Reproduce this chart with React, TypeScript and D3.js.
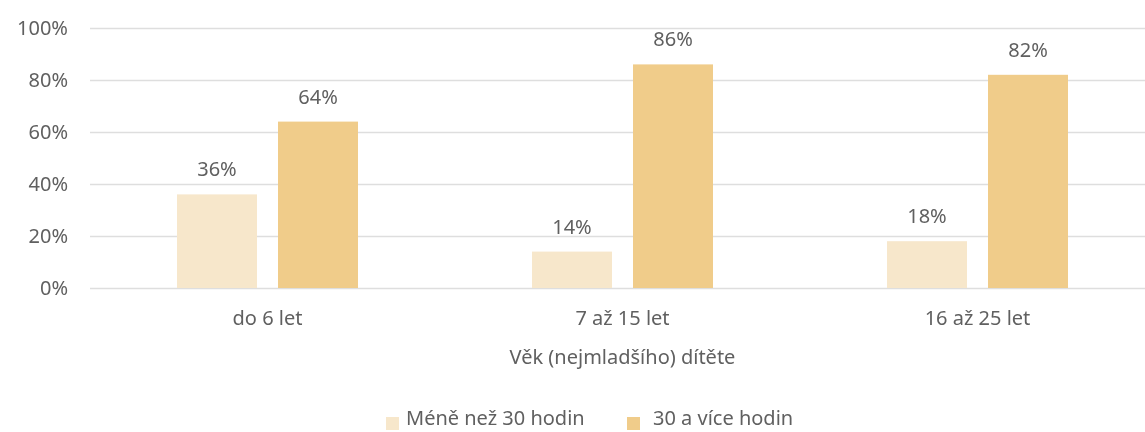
import { useEffect, useRef } from "react";
import * as d3 from "d3";

const categories = ["do 6 let", "7 až 15 let", "16 až 25 let"];
const seriesNames = ["Méně než 30 hodin", "30 a více hodin"];
const lessThan30 = [36, 14, 18];
const thirtyPlus = [64, 86, 82];
const yTicks = [0, 20, 40, 60, 80, 100];
const axisTitle = "Věk (nejmladšího) dítěte";

const COLORS = ["#F7E7CB", "#F0CC8A"];
const TEXT = "#606060";
const FONT = "'Noto Sans', sans-serif";
const FS = 20;

export default function App() {
  const svgRef = useRef<SVGSVGElement>(null);

  useEffect(() => {
    const W = 1145;
    const H = 432;
    const m = { top: 28, left: 90, bottom: 144 };
    const plotW = 1065;
    const plotH = H - m.top - m.bottom;

    const root = d3.select(svgRef.current);
    root.selectAll("*").remove();
    root.attr("width", W).attr("height", H);

    const svg = root.append("g").attr("transform", `translate(${m.left},${m.top})`);

    const x = d3.scaleBand().domain(categories).range([0, plotW]);
    const y = d3.scaleLinear().domain([0, 100]).range([plotH, 0]);
    const inner = d3.scaleBand().domain(["0", "1"]).range([0, 181]).paddingInner(0.208);

    // grid
    svg
      .append("g")
      .call(d3.axisLeft(y).tickValues(yTicks).tickSize(-plotW).tickFormat((d) => `${d}%`))
      .call((g) => {
        g.select(".domain").remove();
        g.selectAll("line").attr("stroke", "#dedede").attr("stroke-width", 1.5);
        g.selectAll("text")
          .attr("x", -22)
          .attr("fill", TEXT)
          .attr("font-size", FS)
          .attr("font-family", FONT);
      });

    const series = [lessThan30, thirtyPlus];
    series.forEach((vals, si) => {
      const g = svg.append("g");
      const off = (x.bandwidth() - 181) / 2;
      g.selectAll("rect")
        .data(vals)
        .enter()
        .append("rect")
        .attr("x", (_, i) => x(categories[i])! + off + inner(String(si))!)
        .attr("y", (d) => y(d))
        .attr("width", inner.bandwidth())
        .attr("height", (d) => plotH - y(d))
        .attr("fill", COLORS[si]);
      g.selectAll("text")
        .data(vals)
        .enter()
        .append("text")
        .attr("x", (_, i) => x(categories[i])! + off + inner(String(si))! + inner.bandwidth() / 2)
        .attr("y", (d) => y(d) - 18)
        .attr("text-anchor", "middle")
        .attr("fill", TEXT)
        .attr("font-size", FS)
        .attr("font-family", FONT)
        .text((d) => `${d}%`);
    });

    // x axis labels
    svg
      .append("g")
      .selectAll("text")
      .data(categories)
      .enter()
      .append("text")
      .attr("x", (d) => x(d)! + x.bandwidth() / 2)
      .attr("y", plotH + 37)
      .attr("text-anchor", "middle")
      .attr("fill", TEXT)
      .attr("font-size", FS)
      .attr("font-family", FONT)
      .text((d) => d);

    svg
      .append("text")
      .attr("x", x(categories[1])! + x.bandwidth() / 2)
      .attr("y", plotH + 76)
      .attr("text-anchor", "middle")
      .attr("fill", TEXT)
      .attr("font-size", FS)
      .attr("font-family", FONT)
      .text(axisTitle);

    // legend
    const legX = [386, 627];
    seriesNames.forEach((name, i) => {
      const lg = root.append("g").attr("transform", `translate(${legX[i]},0)`);
      lg.append("rect").attr("y", 417).attr("width", 13).attr("height", 13).attr("fill", COLORS[i]);
      lg.append("text")
        .attr("x", i === 0 ? 20 : 26)
        .attr("y", 425)
        .attr("fill", TEXT)
        .attr("font-size", FS)
        .attr("font-family", FONT)
        .text(name);
    });
  }, []);

  return (
    <div style={{ position: "fixed", left: 0, top: 0, overflow: "hidden", width: 1145, height: 432 }}>
      <svg ref={svgRef} style={{ display: "block" }} />
    </div>
  );
}
